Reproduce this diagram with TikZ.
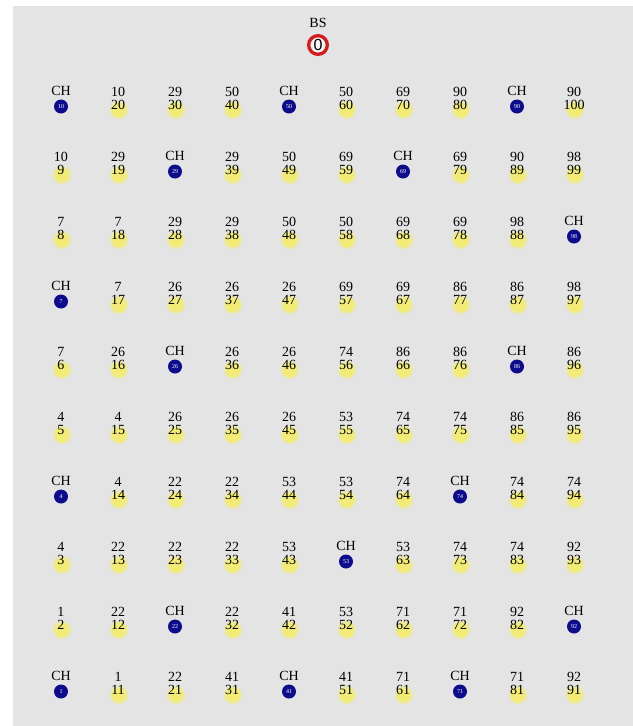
\documentclass[tikz,border=0pt]{standalone}
\usepackage{fontspec}
\setmainfont{Liberation Serif}
\newfontfamily\bsfont{Liberation Sans}
\usepackage{tikz}
\definecolor{panelgray}{RGB}{228,228,228}
\definecolor{nodeyellow}{RGB}{242,236,118}
\definecolor{chblue}{RGB}{12,12,140}
\definecolor{bsred}{RGB}{212,28,28}
\def\chmark{CH}

\begin{document}
\begin{tikzpicture}[
    x=0.75pt, y=-0.75pt,
    sensor/.style={
      circle, fill=nodeyellow, draw=nodeyellow!45!panelgray, line width=1.2pt,
      minimum size=12.5pt, inner sep=0pt
    },
    chnode/.style={
      circle, fill=chblue, minimum size=10.5pt, inner sep=0pt,
      text=white, font=\fontsize{4.5}{4.5}\selectfont
    },
    bsnode/.style={
      circle, draw=bsred, line width=2.5pt, fill=panelgray!40!white,
      minimum size=14pt, inner sep=0pt, font=\bsfont\fontsize{12}{12}\selectfont
    },
    numlab/.style={inner sep=0pt, font=\fontsize{10.5}{10.5}\selectfont},
  ]
    \useasboundingbox (0,0) rectangle (633,726);
    \fill[panelgray] (13,6) rectangle (633,726);

    \node[numlab] (bslab) at (318,23) {BS};
    \node[bsnode] (bs) at (318,45) {0};

    \foreach \heads [count=\r from 0] in {%
      {CH,10,29,50,CH,50,69,90,CH,90},
      {10,29,CH,29,50,69,CH,69,90,98},
      {7,7,29,29,50,50,69,69,98,CH},
      {CH,7,26,26,26,69,69,86,86,98},
      {7,26,CH,26,26,74,86,86,CH,86},
      {4,4,26,26,26,53,74,74,86,86},
      {CH,4,22,22,53,53,74,CH,74,74},
      {4,22,22,22,53,CH,53,74,74,92},
      {1,22,CH,22,41,53,71,71,92,CH},
      {CH,1,22,41,CH,41,71,CH,71,92}} {
      \foreach \hd [count=\c from 0] in \heads {
        \pgfmathtruncatemacro{\id}{10*\c+10-\r}
        \pgfmathsetmacro{\xx}{61+57*\c}
        \pgfmathsetmacro{\yy}{106+65*\r}
        \ifx\hd\chmark
          \node[chnode] (n\id) at (\xx,\yy+0.5) {\id};
          \node[numlab] (h\id) at (\xx,\yy-15) {CH};
        \else
          \node[sensor] (n\id) at (\xx+1,\yy+4) {};
          \node[numlab] (t\id) at (\xx,\yy-1) {\id};
          \node[numlab] (h\id) at (\xx,\yy-14) {\hd};
        \fi
      }
    }
  \end{tikzpicture}
\end{document}
